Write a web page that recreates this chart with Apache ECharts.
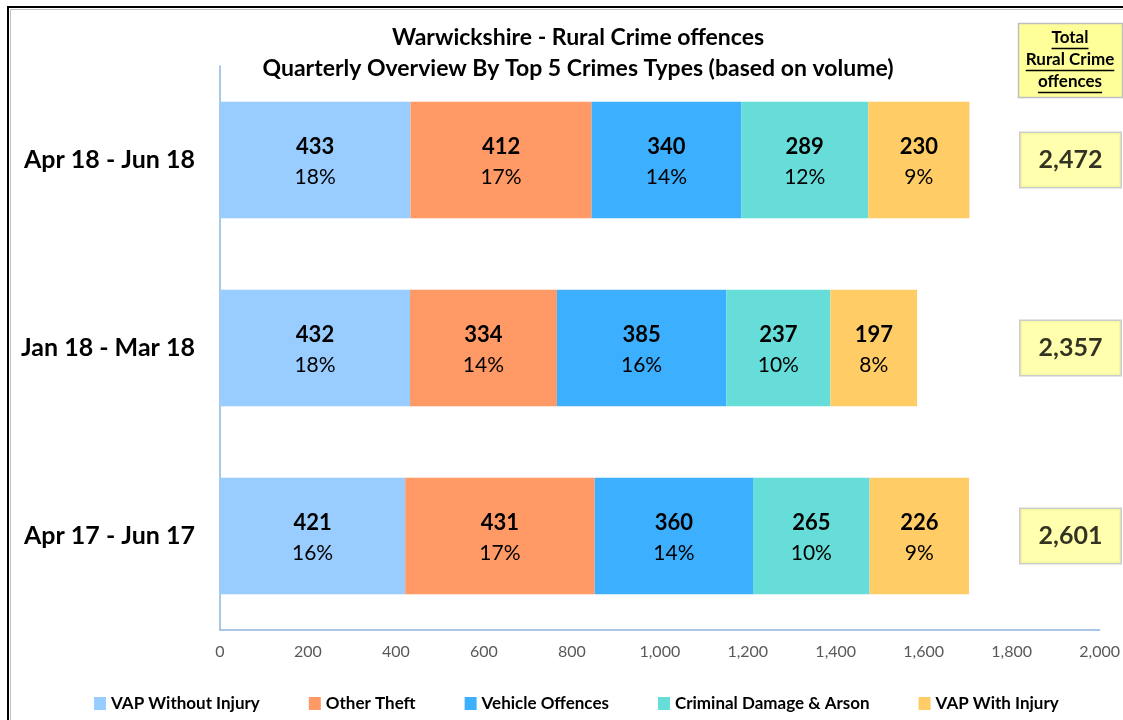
<!DOCTYPE html>
<html><head><meta charset="utf-8">
<script src="https://cdn.jsdelivr.net/npm/echarts@6/dist/echarts.min.js"></script>
<style>html,body{margin:0;padding:0;background:#fff}#c{width:1123px;height:720px}</style>
</head><body><div id="c"></div>
<script>
const categories = ['Apr 18 - Jun 18', 'Jan 18 - Mar 18', 'Apr 17 - Jun 17'];
const seriesNames = ['VAP Without Injury', 'Other Theft', 'Vehicle Offences', 'Criminal Damage & Arson', 'VAP With Injury'];
const vapWithout = [433, 432, 421];
const otherTheft = [412, 334, 431];
const vehicle = [340, 385, 360];
const criminalDamage = [289, 237, 265];
const vapWith = [230, 197, 226];
const pctVapWithout = ['18%', '18%', '16%'];
const pctOtherTheft = ['17%', '14%', '17%'];
const pctVehicle = ['14%', '16%', '14%'];
const pctCriminalDamage = ['12%', '10%', '10%'];
const pctVapWith = ['9%', '8%', '9%'];
const totals = [2472, 2357, 2601];
const xTicks = [0, 200, 400, 600, 800, 1000, 1200, 1400, 1600, 1800, 2000];

const colors = ['#99CCFF', '#FF9966', '#3DAFFF', '#66DDD8', '#FFCC66'];
const values = [vapWithout, otherTheft, vehicle, criminalDamage, vapWith];
const pcts = [pctVapWithout, pctOtherTheft, pctVehicle, pctCriminalDamage, pctVapWith];
const FONT = 'Lato, "Open Sans", sans-serif';

const chart = echarts.init(document.getElementById('c'), null, {renderer: 'canvas'});

const barSeries = seriesNames.map((name, i) => ({
  name, type: 'bar', stack: 'total', barCategoryGap: '38%',
  xAxisIndex: 0, yAxisIndex: 0,
  itemStyle: {color: colors[i]},
  label: {
    show: true, position: 'inside', offset: [0, 2],
    formatter: p => '{v|' + p.value + '}\n{p|' + pcts[i][p.dataIndex] + '}',
    rich: {
      v: {fontFamily: FONT, fontWeight: 'bold', fontSize: 22, color: '#000', lineHeight: 30},
      p: {fontFamily: FONT, fontSize: 21, color: '#000', lineHeight: 30}
    }
  },
  emphasis: {disabled: true},
  data: values[i]
}));

function fmt(n){ return n.toLocaleString('en-GB'); }

const mc = document.createElement('canvas').getContext('2d');
mc.font = 'bold 17px ' + FONT;
const headLines = ['Total', 'Rural Crime', 'offences'];
const headY = [38, 60, 82];
const hx = 1070;
const headEls = [{type: 'rect', shape: {x: 1018.5, y: 23.5, width: 104, height: 74}, style: {fill: '#FFFF99', stroke: '#BFBFBF', lineWidth: 1.5}}];
headLines.forEach((t, k) => {
  headEls.push({type: 'text', x: hx, y: headY[k], style: {text: t, font: 'bold 17px ' + FONT, fill: '#000', align: 'center', verticalAlign: 'middle'}});
  const w = mc.measureText(t).width;
  headEls.push({type: 'line', shape: {x1: hx - w/2, y1: headY[k] + 10.5, x2: hx + w/2, y2: headY[k] + 10.5}, style: {stroke: '#000', lineWidth: 1.3}});
});

chart.setOption({
  animation: false,
  backgroundColor: '#fff',
  title: {
    text: 'Warwickshire - Rural Crime offences\nQuarterly Overview By Top 5 Crimes Types (based on volume)',
    left: 573, textAlign: 'center', top: 17,
    textStyle: {fontFamily: FONT, fontWeight: 'bold', fontSize: 23, color: '#000', lineHeight: 31}
  },
  legend: {
    data: seriesNames, left: 89, top: 690, itemWidth: 12, itemHeight: 13, itemGap: 49,
    icon: 'rect',
    textStyle: {fontFamily: FONT, fontWeight: 'bold', fontSize: 17, color: '#000'}
  },
  grid: [
    {left: 220, right: 22, top: 66, bottom: 90},
    {left: 1020, right: 2, top: 66, bottom: 90}
  ],
  xAxis: [
    {type: 'value', gridIndex: 0, min: xTicks[0], max: xTicks[xTicks.length - 1], interval: 200,
     axisLine: {show: true, lineStyle: {color: '#8DB4E2', width: 1.5}}, axisTick: {show: false}, splitLine: {show: false},
     axisLabel: {fontFamily: FONT, fontSize: 16, color: '#595959', margin: 14, formatter: v => fmt(v)}},
    {type: 'value', gridIndex: 1, min: 0, max: 1, show: false}
  ],
  yAxis: [
    {type: 'category', gridIndex: 0, data: categories, inverse: true,
     axisLine: {show: true, lineStyle: {color: '#8DB4E2', width: 1.5}}, axisTick: {show: false},
     axisLabel: {fontFamily: FONT, fontWeight: 'bold', fontSize: 25, color: '#000', margin: 25}},
    {type: 'category', gridIndex: 1, data: categories, inverse: true, show: false}
  ],
  series: barSeries.concat([{
    name: 'Total', type: 'scatter', xAxisIndex: 1, yAxisIndex: 1, symbolSize: 0, silent: true,
    data: totals.map((t, i) => [0.5, i, t]),
    label: {
      show: true, position: 'inside',
      formatter: p => fmt(p.value[2]),
      fontFamily: FONT, fontWeight: 'bold', fontSize: 25, color: '#000',
      backgroundColor: '#FFFF99', borderColor: '#BFBFBF', borderWidth: 1.5,
      width: 100, height: 54, lineHeight: 54, align: 'center', verticalAlign: 'middle', padding: 0
    }
  }]),
  graphic: [
    {type: 'rect', shape: {x: 8, y: 7, width: 1200, height: 800}, style: {fill: 'none', stroke: '#000', lineWidth: 2}, silent: true},
    {type: 'rect', shape: {x: 10.5, y: 9.5, width: 1200, height: 800}, style: {fill: 'none', stroke: '#C0C0C0', lineWidth: 1}, silent: true}
  ].concat(headEls)
});
</script></body></html>
